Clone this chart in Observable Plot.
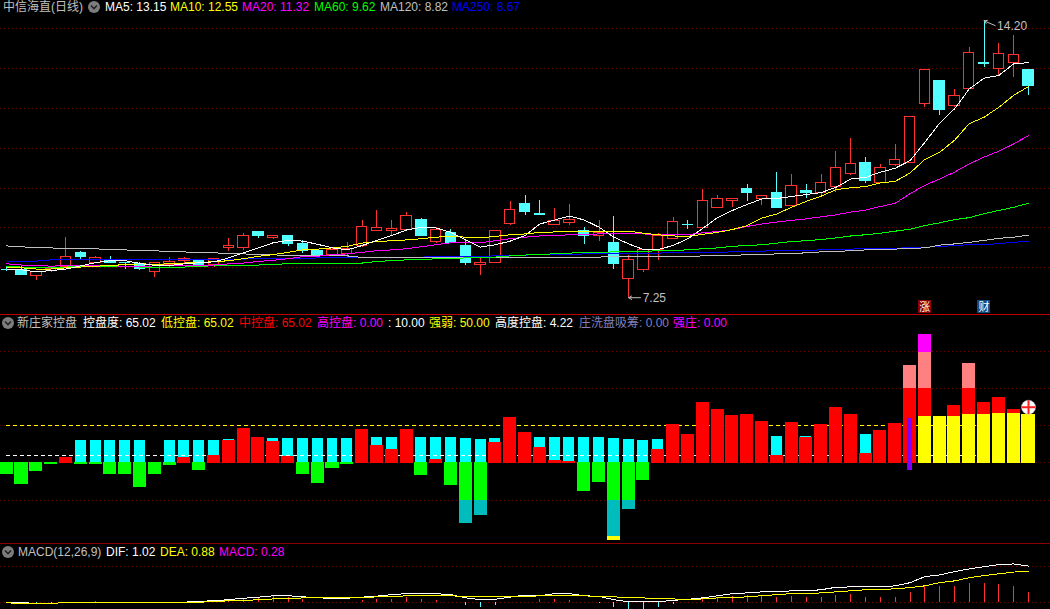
<!DOCTYPE html>
<html>
<head>
<meta charset="utf-8">
<script src="https://cdn.jsdelivr.net/npm/d3@7"></script>
<script src="https://cdn.jsdelivr.net/npm/@observablehq/plot@0.6"></script>
<style>
html,body{margin:0;padding:0;background:#000;width:1050px;height:609px;overflow:hidden}
#root{position:relative;width:1050px;height:609px;background:#000;font-family:"Liberation Sans","Noto Sans CJK SC",sans-serif;font-size:12px}
.panel{position:absolute;left:0}
.panel svg{display:block}
.lg{position:absolute;white-space:pre;line-height:13px;height:13px}
.sep{position:absolute;left:0;width:1050px;height:1px}
.ic{position:absolute;width:12px;height:12px}
</style>
</head>
<body>
<div id="root"></div>
<script>
const _ = null;
const open = [7.95,7.95,7.79,7.93,8.02,8.36,8.13,8.18,8.13,8.10,
7.89,8.06,8.16,8.18,8.08,8.49,8.49,8.89,8.74,8.79,
8.59,8.43,8.33,8.35,8.55,8.93,8.93,8.95,9.20,8.65,
8.88,8.55,8.08,8.13,9.11,9.61,9.36,9.08,9.13,8.93,
8.80,8.63,7.72,7.94,8.45,8.73,9.08,8.99,9.51,9.68,
9.97,9.73,9.89,9.56,9.94,9.88,10.03,10.36,10.62,10.13,
10.59,10.64,12.12,12.69,12.07,12.49,13.13,12.99,13.15,12.97];
const close = [7.94,7.81,7.90,7.98,8.28,8.26,8.25,8.11,8.11,7.96,
8.12,8.15,8.23,8.08,8.23,8.55,8.80,8.79,8.79,8.61,
8.43,8.30,8.45,8.48,9.03,9.00,8.98,9.31,8.80,8.95,
8.63,8.13,8.13,8.93,9.46,9.41,9.33,9.18,9.20,8.80,
8.88,8.10,8.20,8.45,8.80,9.15,9.07,9.68,9.73,9.73,
9.87,9.81,9.51,10.06,9.89,10.13,10.51,10.61,10.17,10.51,
10.71,11.79,12.97,11.97,12.32,13.40,13.12,13.37,13.35,12.57];
const high = [8.00,8.03,7.90,7.98,8.76,8.41,8.28,8.28,8.13,8.13,
8.13,8.26,8.26,8.18,8.23,8.74,8.85,8.91,8.81,8.79,
8.69,8.45,8.50,8.63,9.18,9.44,9.18,9.38,9.23,9.01,
8.95,8.69,8.28,8.93,9.66,9.82,9.69,9.48,9.59,9.00,
9.20,9.28,8.30,8.45,8.86,9.26,9.20,9.97,9.81,9.73,
10.09,9.81,10.39,10.34,10.09,10.34,10.91,11.25,10.77,10.59,
11.10,11.79,12.97,12.69,12.47,13.52,14.20,13.62,13.82,12.97];
const low = [7.91,7.81,7.68,7.88,8.02,8.21,8.12,8.11,7.96,7.93,
7.76,8.01,8.08,8.05,8.00,8.41,8.43,8.74,8.71,8.54,
8.36,8.30,8.33,8.27,8.50,8.93,8.80,8.95,8.80,8.62,
8.63,8.06,7.81,8.13,9.05,9.31,9.33,9.08,9.05,8.59,
8.65,7.97,7.25,7.89,8.19,8.70,8.95,8.98,9.51,9.51,
9.66,9.56,9.51,9.56,9.74,9.79,9.89,10.32,10.12,10.13,
10.54,10.64,12.02,11.82,12.02,12.49,13.02,12.84,12.77,12.32];

const ma5 = [7.97,7.95,7.90,7.93,7.97,8.05,8.13,8.18,8.18,8.11,
8.06,8.06,8.10,8.13,8.15,8.25,8.38,8.50,8.63,8.69,
8.67,8.59,8.50,8.45,8.56,8.69,8.81,8.95,9.02,9.00,
8.89,8.70,8.52,8.58,8.67,8.81,9.10,9.20,9.30,9.20,
9.02,8.77,8.60,8.46,8.46,8.56,8.73,8.99,9.26,9.44,
9.59,9.73,9.74,9.79,9.84,9.89,10.02,10.23,10.27,10.40,
10.50,10.69,11.15,11.63,11.99,12.49,12.76,12.83,13.12,13.15];
const ma10 = [8.02,8.00,7.97,7.97,8.00,8.02,8.04,8.06,8.08,8.10,
8.09,8.10,8.12,8.14,8.15,8.18,8.23,8.29,8.33,8.39,
8.45,8.47,8.50,8.54,8.62,8.66,8.68,8.70,8.73,8.77,
8.79,8.77,8.75,8.79,8.83,8.85,8.89,8.90,8.92,8.91,
8.92,8.92,8.92,8.87,8.83,8.80,8.79,8.84,8.89,8.96,
9.06,9.25,9.35,9.52,9.67,9.80,9.96,10.01,10.04,10.13,
10.17,10.38,10.72,10.90,11.20,11.62,11.78,12.03,12.33,12.55];
const ma20 = [8.10,8.07,8.07,8.04,8.06,8.07,8.07,8.05,8.04,8.03,
8.05,8.05,8.05,8.05,8.07,8.10,8.12,8.16,8.19,8.23,
8.28,8.29,8.33,8.35,8.39,8.43,8.45,8.48,8.53,8.58,
8.63,8.63,8.63,8.68,8.73,8.77,8.80,8.81,8.83,8.84,
8.85,8.86,8.86,8.85,8.84,8.83,8.83,8.88,8.91,8.96,
9.04,9.10,9.15,9.19,9.23,9.28,9.33,9.40,9.45,9.54,
9.62,9.86,10.07,10.23,10.40,10.61,10.78,10.93,11.11,11.32];
const ma60 = [8.03,8.02,8.01,8.02,8.02,8.03,8.04,8.04,8.03,8.02,
8.02,8.02,8.02,8.04,8.05,8.05,8.07,8.07,8.09,8.10,
8.10,8.10,8.10,8.11,8.12,8.16,8.18,8.20,8.20,8.23,
8.23,8.25,8.26,8.27,8.30,8.32,8.34,8.35,8.37,8.38,
8.39,8.40,8.40,8.41,8.43,8.44,8.45,8.48,8.50,8.54,
8.56,8.58,8.62,8.66,8.68,8.71,8.75,8.80,8.83,8.87,
8.92,8.97,9.06,9.13,9.21,9.26,9.36,9.44,9.52,9.62];
const ma120 = [8.55,8.53,8.50,8.50,8.48,8.48,8.48,8.45,8.45,8.43,
8.43,8.40,8.40,8.38,8.38,8.35,8.35,8.33,8.33,8.30,
8.30,8.30,8.30,8.30,8.26,8.26,8.26,8.26,8.26,8.26,
8.26,8.27,8.27,8.27,8.27,8.27,8.27,8.27,8.27,8.27,
8.27,8.28,8.28,8.28,8.28,8.28,8.28,8.30,8.31,8.31,
8.33,8.33,8.35,8.35,8.38,8.40,8.41,8.43,8.45,8.47,
8.47,8.49,8.50,8.57,8.60,8.64,8.69,8.74,8.77,8.82];
const ma250 = [8.17,8.17,8.17,8.20,8.20,8.20,8.20,8.20,8.20,8.20,
8.20,8.20,8.20,8.20,8.20,8.20,8.22,8.23,8.23,8.23,
8.23,8.25,8.25,8.25,8.26,8.27,8.27,8.27,8.27,8.28,
8.28,8.29,8.29,8.30,8.32,8.32,8.33,8.33,8.33,8.35,
8.35,8.36,8.36,8.37,8.37,8.38,8.38,8.39,8.39,8.40,
8.41,8.42,8.43,8.43,8.44,8.45,8.47,8.47,8.48,8.48,
8.49,8.51,8.52,8.53,8.56,8.58,8.58,8.61,8.64,8.67];

const cyanBar = [_,_,_,_,_,30.2,30.2,30.2,30.2,30.2,
_,30.2,30.2,30.2,30.2,31.6,_,_,32.9,32.9,
32.9,32.9,32.9,32.9,_,34.3,34.3,_,34.3,34.3,
34.3,32.9,31.6,32.9,_,_,34.3,34.3,34.3,34.3,
34.3,32.9,31.6,30.2,31.6,_,_,_,_,_,
_,_,35.6,_,35.6,_,_,_,38.3,_,
_,_,_,_,_,_,_,_,_,_];
const redBar = [_,_,_,_,7.4,_,_,_,_,_,
_,_,7.4,_,10.1,30.2,46.4,34.3,28.9,8.7,
_,_,_,_,45,23.5,18.1,45,_,4.7,
_,_,_,27.6,61.2,41,20.8,3.4,2,_,
_,_,_,_,18.1,51.7,38.3,81.3,71.9,63.8,
65.2,55.8,10.1,54.4,34.3,51.7,74.6,65.2,12.8,43.7,
53.1,100,100,_,77.3,100,81.3,88,71.9,_];
const greenBar = [-15.5,-29,-11.4,-2,_,-2,-2,-15.5,-15.5,-32.9,
-15.5,-3.4,_,-10.1,_,_,_,_,_,_,
-15.5,-27.6,-7.4,-1.4,_,_,_,_,-16.8,_,
-30.2,-50,-50,_,_,_,_,_,_,-38.3,
-26.2,-50,-50,-23.5,_,_,_,_,_,_,
_,_,_,_,_,_,_,_,_,_,
_,_,_,_,_,_,_,_,_,_];
const yellowIdx = [62,63,64,65,66,67,68,69];
const yellowVal = [62.5,62.5,62.5,65.2,65.2,66.5,66.5,65.02];
const pinkIdx = [61,62,65];
const pinkVal = [131,148.5,133.7];
const magentaIdx = [62];
const magentaVal = [172.7];
const tealIdx = [31,32,41,42];
const tealVal = [-81.3,-70.6,-98.8,-62.5];
const deepIdx = [41];
const deepVal = [-104];
const purpleIdx = [61];
const purpleTop = [60.2];
const purpleBottom = [-10.1];

const dif = [-.01,-.02,-.03,-.03,-.02,-.01,0,0,0,0,
0,0,0,.02,.04,.07,.11,.14,.18,.18,
.15,.12,.11,.11,.14,.17,.21,.24,.24,.24,
.21,.12,.07,.08,.14,.20,.18,.24,.24,.18,
.16,.07,.01,.01,.01,.05,.08,.12,.18,.24,
.26,.29,.29,.32,.32,.35,.42,.43,.43,.43,
.46,.55,.72,.77,.86,.94,1.00,1.06,1.08,1.02];
const dea = [-.02,-.04,-.04,-.04,-.01,-.01,-.01,-.01,0,0,
0,0,0,0,.01,.04,.04,.07,.09,.09,
.12,.12,.12,.12,.12,.15,.15,.18,.18,.18,
.18,.15,.15,.15,.15,.15,.18,.18,.18,.18,
.15,.15,.12,.12,.09,.09,.07,.09,.12,.12,
.15,.18,.21,.24,.24,.26,.29,.32,.35,.35,
.38,.41,.46,.55,.60,.69,.75,.80,.85,.88];
const macd = [-.03,-.03,-.03,-.03,_,_,.03,_,_,_,
_,_,_,_,_,.03,.08,.13,.16,.13,
.08,_,_,_,.05,.08,.08,.13,.08,.05,
_,-.09,-.15,-.09,_,_,.07,.07,.05,_,
-.05,-.15,-.21,-.21,-.15,-.07,_,.07,.12,.15,
.18,.18,.12,.15,.12,.12,.18,.21,.12,.12,
.12,.26,.46,.43,.43,.52,.52,.49,.43,.28];

const priceGrid = [14,13,12,11,10,9,8];
const indGrid = [150,100,50,0,-50];
const macdGrid = [1,0];
const highLabel = "14.20";
const lowLabel = "7.25";

const RED = "#ff3232", CYAN = "#54ffff", GRID = "#660000";
const crisp = {shapeRendering: "crispEdges"};
const idx = d3.range(open.length);
const xScale = {domain: [0, 69], range: [6.2, 1028], axis: null};
const grid = vals => Plot.ruleY(vals, {stroke: GRID, strokeWidth: 1, strokeDasharray: "1,3", ...crisp});
const plotStyle = {background: "#000", fontFamily: '"Liberation Sans","Noto Sans CJK SC",sans-serif'};

// ---------- price panel
const candles = idx.map(i => ({
  i, up: close[i] >= open[i], top: Math.max(open[i], close[i]), bot: Math.min(open[i], close[i]),
  high: high[i], low: low[i]
}));
const bw = 0.35;
const maLine = (arr, stroke) => Plot.lineY(arr, {x: (d, i) => i, y: d => d, stroke, strokeWidth: 1, ...crisp});
const pricePlot = Plot.plot({
  width: 1050, height: 315, margin: 0,
  x: xScale,
  y: {domain: [14.71, 6.8035], range: [0, 315], axis: null},
  style: plotStyle,
  marks: [
    grid(priceGrid),
    Plot.ruleX(candles, {x: "i", y1: "high", y2: "top", stroke: d => d.up ? RED : CYAN, strokeWidth: 1, ...crisp}),
    Plot.ruleX(candles, {x: "i", y1: "bot", y2: "low", stroke: d => d.up ? RED : CYAN, strokeWidth: 1, ...crisp}),
    Plot.rect(candles, {x1: d => d.i - bw, x2: d => d.i + bw, y1: "bot", y2: "top",
      fill: d => d.up ? "#000" : CYAN, stroke: d => d.up ? RED : CYAN, strokeWidth: 1, ...crisp}),
    maLine(ma250, "#0000ff"),
    maLine(ma120, "#c0c0c0"),
    maLine(ma60, "#00ff00"),
    maLine(ma20, "#ff00ff"),
    maLine(ma10, "#ffff00"),
    maLine(ma5, "#ffffff"),
    Plot.arrow([{x1: 66.75, y1: 14.08, x2: 66, y2: 14.2}], {x1: "x1", y1: "y1", x2: "x2", y2: "y2", stroke: "#c0c0c0", strokeWidth: 1, headLength: 5, inset: 0}),
    Plot.text([highLabel], {x: () => 66, y: () => 14.2, text: d => d, dx: 13, dy: 5, textAnchor: "start", fill: "#c0c0c0", fontSize: 12}),
    Plot.arrow([{x1: 42.8, y1: 7.25, x2: 42, y2: 7.25}], {x1: "x1", y1: "y1", x2: "x2", y2: "y2", stroke: "#c0c0c0", strokeWidth: 1, headLength: 5, inset: 0}),
    Plot.text([lowLabel], {x: () => 42, y: () => 7.25, text: d => d, dx: 14, textAnchor: "start", fill: "#c0c0c0", fontSize: 12}),
    Plot.rect([{i: 62, c: "#8b0000"}, {i: 66, c: "#0f4c81"}], {x1: d => d.i - 0.43, x2: d => d.i + 0.43, y1: () => 6.85, y2: () => 7.18, fill: "c", ...crisp}),
    Plot.text([{i: 62, t: "涨"}, {i: 66, t: "财"}], {x: "i", y: () => 7.0, text: "t", fill: "#fff", fontSize: 11})
  ]
});

// ---------- indicator panel
const rows = arr => arr.map((v, i) => ({i, v})).filter(d => d.v !== null);
const zip = (is, vs) => is.map((i, k) => ({i, v: vs[k]}));
const bar = (data, fill, hw, base = 0) => Plot.rect(data, {x1: d => d.i - hw, x2: d => d.i + hw, y1: () => base, y2: "v", fill, ...crisp});
const wide = 0.44, slim = 0.37;
const dashed = (v, stroke) => Plot.ruleY([v], {x1: 0, x2: 69, stroke, strokeWidth: 1, strokeDasharray: "4,3", ...crisp});
const indPlot = Plot.plot({
  width: 1050, height: 228, margin: 0,
  x: xScale,
  y: {domain: [198.25, -108.2], range: [0, 228], axis: null},
  style: plotStyle,
  marks: [
    grid(indGrid),
    bar(rows(cyanBar), "#00ffff", slim),
    dashed(50, "#ffff00"),
    dashed(10, "#ffffff"),
    bar(zip(magentaIdx, magentaVal), "#ff00ff", wide, -0.7),
    bar(zip(pinkIdx, pinkVal), "#ff8080", wide, -0.7),
    bar(rows(redBar), "#ff0000", wide, -0.7),
    bar(zip(yellowIdx, yellowVal), "#ffff00", wide, -0.7),
    bar(zip(deepIdx, deepVal), "#ffff00", wide),
    bar(zip(tealIdx, tealVal), "#00bcbc", wide),
    bar(rows(greenBar), "#00ff00", wide),
    Plot.rect(purpleIdx, {x1: d => d - 0.17, x2: d => d + 0.17, y1: (d, k) => purpleBottom[k], y2: (d, k) => purpleTop[k], fill: "#8000ff", ...crisp}),
    Plot.dot([69], {x: d => d, y: () => 75, r: 7, fill: "#fff", stroke: "#bbb", strokeWidth: 0.5}),
    Plot.dot([69], {x: d => d, y: () => 75, r: 4.5, symbol: "plus", stroke: "#ff2020", strokeWidth: 2})
  ]
});

// ---------- MACD panel
const macdPlot = Plot.plot({
  width: 1050, height: 66, margin: 0,
  x: xScale,
  y: {domain: [1.658, -0.209], range: [0, 66], axis: null},
  style: plotStyle,
  marks: [
    grid(macdGrid),
    Plot.ruleX(rows(macd), {x: "i", y1: () => 0, y2: "v", stroke: d => d.v >= 0 ? RED : CYAN, strokeWidth: 1, ...crisp}),
    maLine(dif, "#ffffff"),
    maLine(dea, "#ffff00")
  ]
});

// ---------- assemble
const root = document.getElementById("root");
[[pricePlot, 0], [indPlot, 315], [macdPlot, 543]].forEach(([p, top]) => {
  const d = document.createElement("div");
  d.className = "panel"; d.style.top = top + "px"; d.appendChild(p); root.appendChild(d);
});
[[314, "#c00000"], [543, "#8b0000"]].forEach(([top, c]) => {
  const s = document.createElement("div");
  s.className = "sep"; s.style.top = top + "px"; s.style.background = c; root.appendChild(s);
});
const icon = (x, y) => {
  const s = document.createElementNS("http://www.w3.org/2000/svg", "svg");
  s.setAttribute("class", "ic"); s.setAttribute("viewBox", "0 0 12 12");
  s.style.left = x + "px"; s.style.top = y + "px";
  s.innerHTML = '<circle cx="6" cy="6" r="6" fill="#7d7d7d"/><path d="M3 4.5 L6 7.5 L9 4.5" fill="none" stroke="#222" stroke-width="1.6"/>';
  root.appendChild(s);
};
const label = (x, y, text, color) => {
  const s = document.createElement("span");
  s.className = "lg"; s.textContent = text; s.style.left = x + "px"; s.style.top = y + "px"; s.style.color = color;
  root.appendChild(s);
};
icon(88, 1);
icon(2, 317);
icon(2, 546);
const legend1 = [
  [3, "中信海直(日线)", "#c0c0c0"], [105, "MA5: 13.15", "#ffffff"], [170, "MA10: 12.55", "#ffff00"],
  [242, "MA20: 11.32", "#ff00ff"], [314, "MA60: 9.62", "#00ff00"], [380, "MA120: 8.82", "#c0c0c0"],
  [452, "MA250: 8.67", "#0000ff"]
];
const legend2 = [
  [17, "新庄家控盘", "#c0c0c0"], [83, "控盘度: 65.02", "#ffffff"], [161, "低控盘: 65.02", "#ffff00"],
  [239, "中控盘: 65.02", "#ff0000"], [317, "高控盘: 0.00", "#ff00ff"], [388, ": 10.00", "#ffffff"],
  [429, "强弱: 50.00", "#ffff00"], [495, "高度控盘: 4.22", "#ffffff"], [579, "庄洗盘吸筹: 0.00", "#8080c0"],
  [673, "强庄: 0.00", "#ff00ff"]
];
const legend3 = [
  [18, "MACD(12,26,9)", "#c0c0c0"], [106, "DIF: 1.02", "#ffffff"], [160, "DEA: 0.88", "#ffff00"],
  [219, "MACD: 0.28", "#ff00ff"]
];
legend1.forEach(([x, t, c]) => label(x, 1, t, c));
legend2.forEach(([x, t, c]) => label(x, 317, t, c));
legend3.forEach(([x, t, c]) => label(x, 546, t, c));
</script>
</body>
</html>
